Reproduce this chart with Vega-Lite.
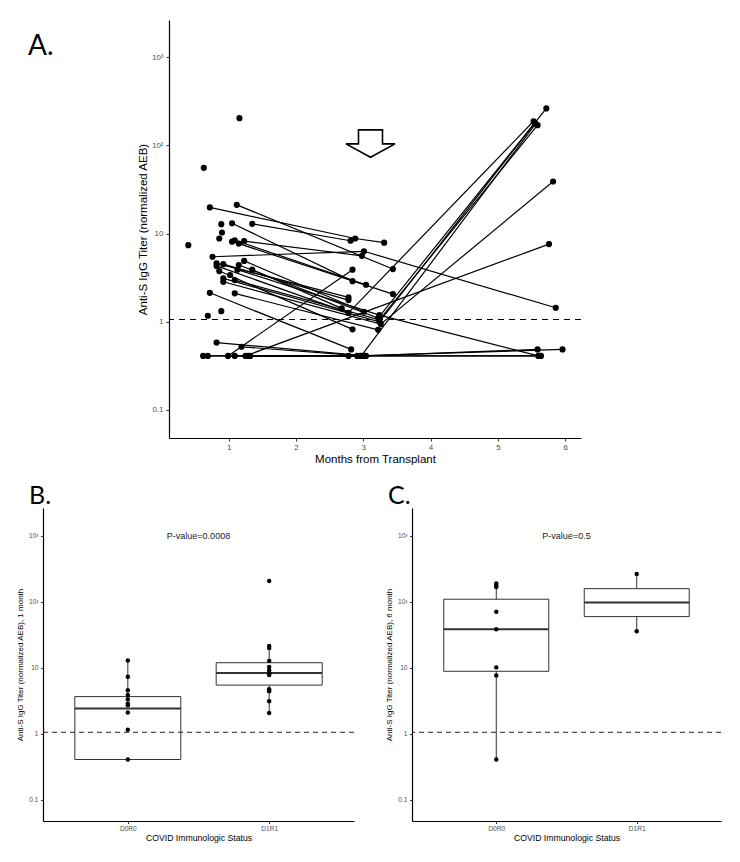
{
  "$schema": "https://vega.github.io/schema/vega-lite/v6.json",
  "autosize": {"type": "pad"},
  "padding": {"left": 16, "top": 20, "right": 10, "bottom": 10},
  "background": "white",
  "config": {
    "view": {"stroke": null},
    "font": "Liberation Sans",
    "axis": {"grid": false, "domainColor": "black", "domainWidth": 1.2, "tickColor": "#333333", "labelColor": "#4d4d4d", "titleColor": "black", "titleFontWeight": "normal", "labelFont": "Liberation Sans", "titleFont": "Liberation Sans"},
    "title": {"font": "Lato", "fontWeight": "normal", "color": "black"}
  },
  "datasets": {
    "pA": [
      {"id": "p1", "t": 0.72, "v": 19.8}, {"id": "p1", "t": 2.88, "v": 8.8}, {"id": "p1", "t": 3.31, "v": 7.9},
      {"id": "p2", "t": 1.35, "v": 12.9}, {"id": "p2", "t": 2.81, "v": 8.3},
      {"id": "p3", "t": 1.12, "v": 21.2}, {"id": "p3", "t": 3.44, "v": 3.96},
      {"id": "p4", "t": 1.05, "v": 13.1}, {"id": "p4", "t": 2.84, "v": 2.89},
      {"id": "p5", "t": 0.76, "v": 5.46}, {"id": "p5", "t": 3.01, "v": 6.3}, {"id": "p5", "t": 5.86, "v": 1.44},
      {"id": "p6", "t": 1.23, "v": 8.2}, {"id": "p6", "t": 2.98, "v": 5.6},
      {"id": "p7", "t": 1.15, "v": 7.7}, {"id": "p7", "t": 3.44, "v": 2.06},
      {"id": "p8", "t": 1.09, "v": 8.4}, {"id": "p8", "t": 3.04, "v": 2.63},
      {"id": "p9", "t": 0.82, "v": 4.6}, {"id": "p9", "t": 2.78, "v": 1.89},
      {"id": "p10", "t": 0.92, "v": 4.5}, {"id": "p10", "t": 2.78, "v": 1.76},
      {"id": "p11", "t": 1.13, "v": 3.9}, {"id": "p11", "t": 3.24, "v": 1.19}, {"id": "p11", "t": 5.6, "v": 0.41},
      {"id": "p12", "t": 1.15, "v": 4.4}, {"id": "p12", "t": 3.22, "v": 1.1}, {"id": "p12", "t": 5.72, "v": 263},
      {"id": "p13", "t": 0.92, "v": 3.1}, {"id": "p13", "t": 3.24, "v": 1.0}, {"id": "p13", "t": 5.55, "v": 180},
      {"id": "p14", "t": 0.92, "v": 2.84}, {"id": "p14", "t": 3.26, "v": 0.94}, {"id": "p14", "t": 5.82, "v": 39},
      {"id": "p15", "t": 1.09, "v": 2.97}, {"id": "p15", "t": 3.24, "v": 1.05}, {"id": "p15", "t": 5.59, "v": 170},
      {"id": "p16", "t": 0.72, "v": 2.13}, {"id": "p16", "t": 2.82, "v": 0.486},
      {"id": "p17", "t": 1.09, "v": 2.1}, {"id": "p17", "t": 3.22, "v": 0.81},
      {"id": "p18", "t": 0.62, "v": 0.41}, {"id": "p18", "t": 3.0, "v": 0.41}, {"id": "p18", "t": 5.62, "v": 0.41},
      {"id": "p19", "t": 0.99, "v": 0.41}, {"id": "p19", "t": 2.84, "v": 3.9},
      {"id": "p20", "t": 1.25, "v": 0.41}, {"id": "p20", "t": 5.76, "v": 7.6},
      {"id": "p21", "t": 0.82, "v": 0.58}, {"id": "p21", "t": 3.04, "v": 0.41}, {"id": "p21", "t": 5.59, "v": 0.486},
      {"id": "p22", "t": 1.19, "v": 0.52}, {"id": "p22", "t": 2.97, "v": 0.41}, {"id": "p22", "t": 5.56, "v": 176},
      {"id": "p23", "t": 0.82, "v": 4.3}, {"id": "p23", "t": 2.78, "v": 1.26}, {"id": "p23", "t": 5.53, "v": 188},
      {"id": "p24", "t": 1.29, "v": 0.41}, {"id": "p24", "t": 2.91, "v": 0.41}, {"id": "p24", "t": 5.96, "v": 0.486},
      {"id": "p25", "t": 0.69, "v": 0.41}, {"id": "p25", "t": 2.78, "v": 0.41}, {"id": "p25", "t": 5.64, "v": 0.41},
      {"id": "p26", "t": 1.32, "v": 0.41}, {"id": "p26", "t": 3.02, "v": 0.41},
      {"id": "p27", "t": 1.09, "v": 0.41}, {"id": "p27", "t": 2.95, "v": 0.41},
      {"id": "p28", "t": 1.23, "v": 4.9}, {"id": "p28", "t": 3.01, "v": 1.3},
      {"id": "p29", "t": 1.35, "v": 3.9}, {"id": "p29", "t": 2.68, "v": 1.42},
      {"id": "p30", "t": 0.86, "v": 3.76}, {"id": "p30", "t": 2.84, "v": 0.82},
      {"id": "p31", "t": 0.4, "v": 7.4},
      {"id": "p32", "t": 0.63, "v": 55.7},
      {"id": "p33", "t": 1.16, "v": 204},
      {"id": "p34", "t": 0.69, "v": 1.17},
      {"id": "p35", "t": 0.89, "v": 1.32},
      {"id": "p36", "t": 0.86, "v": 8.8},
      {"id": "p37", "t": 0.9, "v": 10.3},
      {"id": "p38", "t": 0.89, "v": 12.8},
      {"id": "p39", "t": 1.02, "v": 3.39},
      {"id": "p40", "t": 1.05, "v": 8.1}
    ],
    "boxes": [
      {"panel": "B", "group": "D0R0", "lo": 0.41, "q1": 0.41, "med": 2.43, "q3": 3.68, "hi": 13.0},
      {"panel": "B", "group": "D1R1", "lo": 2.07, "q1": 5.5, "med": 8.4, "q3": 12.0, "hi": 21.5},
      {"panel": "C", "group": "D0R0", "lo": 0.41, "q1": 8.9, "med": 38.7, "q3": 110, "hi": 190},
      {"panel": "C", "group": "D1R1", "lo": 36, "q1": 60, "med": 98, "q3": 159, "hi": 265}
    ],
    "pts": [
      {"panel": "B", "group": "D0R0", "v": 0.41}, {"panel": "B", "group": "D0R0", "v": 1.16}, {"panel": "B", "group": "D0R0", "v": 2.11},
      {"panel": "B", "group": "D0R0", "v": 2.73}, {"panel": "B", "group": "D0R0", "v": 2.9}, {"panel": "B", "group": "D0R0", "v": 3.37},
      {"panel": "B", "group": "D0R0", "v": 3.9}, {"panel": "B", "group": "D0R0", "v": 4.6}, {"panel": "B", "group": "D0R0", "v": 7.37},
      {"panel": "B", "group": "D0R0", "v": 13.0},
      {"panel": "B", "group": "D1R1", "v": 2.07}, {"panel": "B", "group": "D1R1", "v": 3.14}, {"panel": "B", "group": "D1R1", "v": 4.45},
      {"panel": "B", "group": "D1R1", "v": 4.76}, {"panel": "B", "group": "D1R1", "v": 7.8}, {"panel": "B", "group": "D1R1", "v": 8.1},
      {"panel": "B", "group": "D1R1", "v": 8.4}, {"panel": "B", "group": "D1R1", "v": 9.2}, {"panel": "B", "group": "D1R1", "v": 10.3},
      {"panel": "B", "group": "D1R1", "v": 12.8}, {"panel": "B", "group": "D1R1", "v": 20.0}, {"panel": "B", "group": "D1R1", "v": 21.5},
      {"panel": "B", "group": "D1R1", "v": 208},
      {"panel": "C", "group": "D0R0", "v": 190}, {"panel": "C", "group": "D0R0", "v": 178}, {"panel": "C", "group": "D0R0", "v": 169},
      {"panel": "C", "group": "D0R0", "v": 71}, {"panel": "C", "group": "D0R0", "v": 38.7}, {"panel": "C", "group": "D0R0", "v": 10.2},
      {"panel": "C", "group": "D0R0", "v": 7.7}, {"panel": "C", "group": "D0R0", "v": 0.41},
      {"panel": "C", "group": "D1R1", "v": 265}, {"panel": "C", "group": "D1R1", "v": 36}
    ],
    "thr": [{"v": 1.06}],
    "arrow": [{"t": 3.107, "v": 105}],
    "pB": [{"label": "P-value=0.0008", "v": 1000}],
    "pC": [{"label": "P-value=0.5", "v": 1000}]
  },
  "bounds": "flush",
  "spacing": 488,
  "vconcat": [
    {
      "bounds": "flush",
      "spacing": 0,
      "hconcat": [
        {"width": 125.7, "height": 418, "data": {"values": []}, "mark": "point"},
        {
          "width": 412,
          "height": 418,
          "title": {"text": "A.", "anchor": "start", "frame": "group", "fontSize": 28, "dx": -141, "offset": 0, "dy": 62.7, "baseline": "alphabetic"},
          "encoding": {
            "x": {"field": "t", "type": "quantitative", "scale": {"domain": [0.113, 6.235], "nice": false, "zero": false},
                  "axis": {"title": "Months from Transplant", "values": [1, 2, 3, 4, 5, 6], "format": "d", "labelFontSize": 8, "titleFontSize": 11.5, "tickSize": 3, "labelPadding": 2, "titlePadding": 2}},
            "y": {"field": "v", "type": "quantitative", "scale": {"type": "log", "domain": [0.048, 2650], "nice": false},
                  "axis": {"title": "Anti-S IgG Titer (normalized AEB)", "values": [0.1, 1, 10, 100, 1000], "labelExpr": "datum.value == 1000 ? '10³' : datum.value == 100 ? '10²' : datum.value == 10 ? '10' : datum.value == 1 ? '1' : '0.1'", "labelFontSize": 8, "titleFontSize": 11.5, "tickSize": 3, "labelPadding": 3, "titlePadding": 3}}
          },
          "layer": [
            {"data": {"name": "pA"}, "mark": {"type": "line", "color": "black", "strokeWidth": 1.2}, "encoding": {"detail": {"field": "id"}, "order": {"field": "t"}}},
            {"data": {"name": "pA"}, "mark": {"type": "circle", "color": "black", "size": 38, "opacity": 1}},
            {"data": {"name": "thr"}, "mark": {"type": "rule", "color": "black", "strokeWidth": 1.2, "strokeDash": [6, 5]}, "encoding": {"x": null}},
            {"data": {"name": "arrow"}, "mark": {"type": "point", "shape": "M-0.49,-0.56L0.49,-0.56L0.49,0.01L1,0.01L0,0.56L-1,0.01L-0.49,0.01Z", "filled": false, "stroke": "black", "strokeWidth": 1.6, "size": 2401, "opacity": 1}}
          ]
        }
      ]
    },
    {
      "bounds": "flush",
      "spacing": 58,
      "hconcat": [
        {
          "width": 311,
          "height": 313,
          "title": {"text": "B.", "anchor": "start", "frame": "group", "fontSize": 25, "dx": -14, "offset": 0, "dy": 20.5, "baseline": "alphabetic"},
          "encoding": {
            "x": {"field": "group", "type": "nominal", "scale": {"type": "point", "padding": 0.6, "domain": ["D0R0", "D1R1"]},
                  "axis": {"title": "COVID Immunologic Status", "labelAngle": 0, "labelFontSize": 6.6, "titleFontSize": 8.7, "tickSize": 2.5, "labelPadding": 2.3, "titlePadding": 1.5}}
          },
          "layer": [
            {"data": {"name": "boxes"}, "transform": [{"filter": "datum.panel == 'B'"}], "mark": {"type": "rule", "color": "#333333", "strokeWidth": 1},
             "encoding": {"y": {"field": "lo", "type": "quantitative", "scale": {"type": "log", "domain": [0.048, 2650], "nice": false},
                                "axis": {"title": "Anti-S IgG Titer (normalized AEB), 1 month", "values": [0.1, 1, 10, 100, 1000], "labelExpr": "datum.value == 1000 ? '10³' : datum.value == 100 ? '10²' : datum.value == 10 ? '10' : datum.value == 1 ? '1' : '0.1'", "labelFontSize": 6.6, "titleFontSize": 8, "tickSize": 2.5, "labelPadding": 2.5, "titlePadding": 3.5}},
                          "y2": {"field": "hi"}}},
            {"data": {"name": "boxes"}, "transform": [{"filter": "datum.panel == 'B'"}], "mark": {"type": "bar", "fill": "white", "stroke": "#333333", "strokeWidth": 1, "size": 106},
             "encoding": {"y": {"field": "q1", "type": "quantitative"}, "y2": {"field": "q3"}}},
            {"data": {"name": "boxes"}, "transform": [{"filter": "datum.panel == 'B'"}], "mark": {"type": "tick", "color": "#333333", "thickness": 2, "size": 106, "opacity": 1},
             "encoding": {"y": {"field": "med", "type": "quantitative"}}},
            {"data": {"name": "pts"}, "transform": [{"filter": "datum.panel == 'B'"}], "mark": {"type": "circle", "color": "black", "size": 20, "opacity": 1},
             "encoding": {"y": {"field": "v", "type": "quantitative"}}},
            {"data": {"name": "thr"}, "mark": {"type": "rule", "color": "#222222", "strokeWidth": 1, "strokeDash": [5, 4]}, "encoding": {"x": null, "y": {"field": "v", "type": "quantitative"}}},
            {"data": {"name": "pB"}, "mark": {"type": "text", "fontSize": 9, "color": "#1a1a1a", "baseline": "middle"}, "encoding": {"x": null, "y": {"field": "v", "type": "quantitative"}, "text": {"field": "label"}}}
          ]
        },
        {
          "width": 309,
          "height": 313,
          "title": {"text": "C.", "anchor": "start", "frame": "group", "fontSize": 25, "dx": -24, "offset": 0, "dy": 20.5, "baseline": "alphabetic"},
          "encoding": {
            "x": {"field": "group", "type": "nominal", "scale": {"type": "point", "padding": 0.6, "domain": ["D0R0", "D1R1"]},
                  "axis": {"title": "COVID Immunologic Status", "labelAngle": 0, "labelFontSize": 6.6, "titleFontSize": 8.7, "tickSize": 2.5, "labelPadding": 2.3, "titlePadding": 1.5}}
          },
          "layer": [
            {"data": {"name": "boxes"}, "transform": [{"filter": "datum.panel == 'C'"}], "mark": {"type": "rule", "color": "#333333", "strokeWidth": 1},
             "encoding": {"y": {"field": "lo", "type": "quantitative", "scale": {"type": "log", "domain": [0.048, 2650], "nice": false},
                                "axis": {"title": "Anti-S IgG Titer (normalized AEB), 6 month", "values": [0.1, 1, 10, 100, 1000], "labelExpr": "datum.value == 1000 ? '10³' : datum.value == 100 ? '10²' : datum.value == 10 ? '10' : datum.value == 1 ? '1' : '0.1'", "labelFontSize": 6.6, "titleFontSize": 8, "tickSize": 2.5, "labelPadding": 2.5, "titlePadding": 3.5}},
                          "y2": {"field": "hi"}}},
            {"data": {"name": "boxes"}, "transform": [{"filter": "datum.panel == 'C'"}], "mark": {"type": "bar", "fill": "white", "stroke": "#333333", "strokeWidth": 1, "size": 105},
             "encoding": {"y": {"field": "q1", "type": "quantitative"}, "y2": {"field": "q3"}}},
            {"data": {"name": "boxes"}, "transform": [{"filter": "datum.panel == 'C'"}], "mark": {"type": "tick", "color": "#333333", "thickness": 2, "size": 105, "opacity": 1},
             "encoding": {"y": {"field": "med", "type": "quantitative"}}},
            {"data": {"name": "pts"}, "transform": [{"filter": "datum.panel == 'C'"}], "mark": {"type": "circle", "color": "black", "size": 20, "opacity": 1},
             "encoding": {"y": {"field": "v", "type": "quantitative"}}},
            {"data": {"name": "thr"}, "mark": {"type": "rule", "color": "#222222", "strokeWidth": 1, "strokeDash": [5, 4]}, "encoding": {"x": null, "y": {"field": "v", "type": "quantitative"}}},
            {"data": {"name": "pC"}, "mark": {"type": "text", "fontSize": 9, "color": "#1a1a1a", "baseline": "middle"}, "encoding": {"x": null, "y": {"field": "v", "type": "quantitative"}, "text": {"field": "label"}}}
          ]
        }
      ]
    }
  ]
}
